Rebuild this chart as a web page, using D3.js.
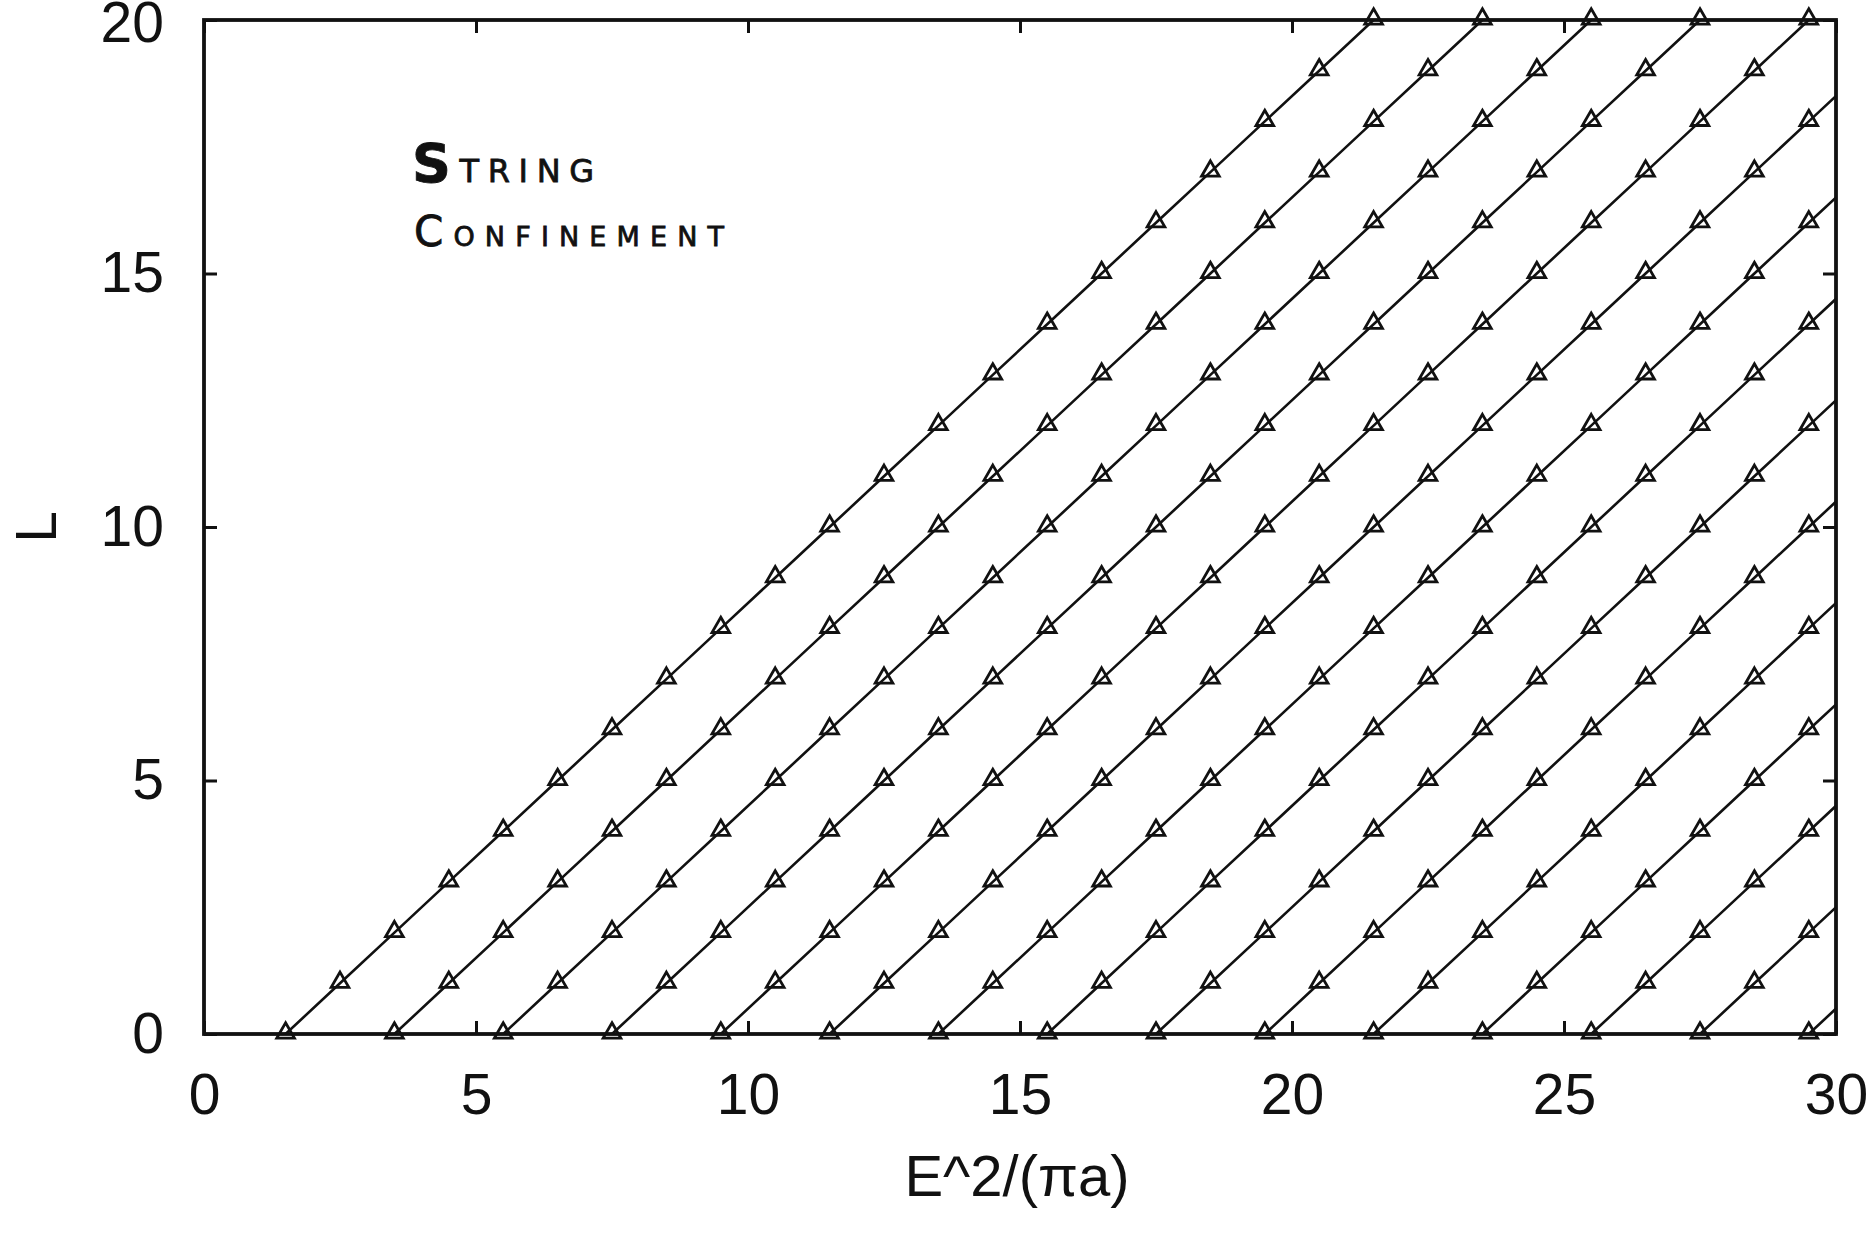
<!DOCTYPE html>
<html>
<head>
<meta charset="utf-8">
<script src="https://cdn.jsdelivr.net/npm/d3@7"></script>
<style>
  body { margin: 0; background: #fff; }
  svg { display: block; }
</style>
</head>
<body>
<div id="chart"></div>
<script>
// E^2/(pi a) where each trajectory crosses L = 0
const lineStarts = [1.5, 3.5, 5.5, 7.5, 9.5, 11.5, 13.5, 15.5, 17.5, 19.5, 21.5, 23.5, 25.5, 27.5, 29.5];
// angular momentum values carried by every trajectory
const levels = [0, 1, 2, 3, 4, 5, 6, 7, 8, 9, 10, 11, 12, 13, 14, 15, 16, 17, 18, 19, 20];
const xTicks = [0, 5, 10, 15, 20, 25, 30];
const yTicks = [0, 5, 10, 15, 20];

const W = 1872, H = 1254;
const margin = { top: 20, right: 36, bottom: 220, left: 204 };
const width = W - margin.left - margin.right;
const height = H - margin.top - margin.bottom;

const svg = d3.select("#chart").append("svg")
    .attr("width", W)
    .attr("height", H);

const g = svg.append("g")
    .attr("transform", `translate(${margin.left},${margin.top})`);

const x = d3.scaleLinear().domain([0, 30]).range([0, width]);
const y = d3.scaleLinear().domain([0, 20]).range([height, 0]);

// clip for the lines
g.append("clipPath").attr("id", "plot-clip")
    .append("rect")
    .attr("width", width)
    .attr("height", height);

// build series: each trajectory is L vs E^2/(pi a) = start + L
const series = lineStarts.map(s => levels.map(L => ({ x: s + L, L: L })));

const line = d3.line()
    .x(d => x(d.x))
    .y(d => y(d.L));

g.append("g")
    .attr("clip-path", "url(#plot-clip)")
    .selectAll("path")
    .data(series)
    .enter().append("path")
    .attr("d", line)
    .attr("fill", "none")
    .attr("stroke", "#111")
    .attr("stroke-width", 2.6);

// triangle markers
const tri = d3.symbol().type(d3.symbolTriangle).size(135);
g.append("g")
    .selectAll("path")
    .data(series.flat().filter(d => d.x <= 30))
    .enter().append("path")
    .attr("d", tri)
    .attr("transform", d => `translate(${x(d.x)},${y(d.L) - 1})`)
    .attr("fill", "none")
    .attr("stroke", "#111")
    .attr("stroke-width", 2.8);

// axes with inward ticks on all four sides
const tickLen = 13;
const axisFont = "'Liberation Sans', Arial, sans-serif";

const bottomAxis = g.append("g")
    .attr("transform", `translate(0,${height})`)
    .call(d3.axisBottom(x).tickValues(xTicks).tickSizeInner(-tickLen).tickSizeOuter(0).tickPadding(40));
const topAxis = g.append("g")
    .call(d3.axisTop(x).tickValues(xTicks).tickSizeInner(-tickLen).tickSizeOuter(0).tickFormat(""));
const leftAxis = g.append("g")
    .call(d3.axisLeft(y).tickValues(yTicks).tickSizeInner(-tickLen).tickSizeOuter(0).tickPadding(40));
const rightAxis = g.append("g")
    .attr("transform", `translate(${width},0)`)
    .call(d3.axisRight(y).tickValues(yTicks).tickSizeInner(-tickLen).tickSizeOuter(0).tickFormat(""));

[bottomAxis, topAxis, leftAxis, rightAxis].forEach(a => {
    a.select(".domain").remove();
    a.selectAll(".tick line").attr("stroke", "#111").attr("stroke-width", 3);
    a.selectAll("text")
        .attr("fill", "#111")
        .style("font-family", axisFont)
        .style("font-size", "57px");
});
bottomAxis.selectAll("text").attr("dy", "0.71em");
// keep the top label inside the page
leftAxis.selectAll(".tick text").filter(d => d === 20).attr("dy", "0.38em");

// frame
g.append("rect")
    .attr("width", width)
    .attr("height", height)
    .attr("fill", "none")
    .attr("stroke", "#111")
    .attr("stroke-width", 3.8);

// axis titles
svg.append("text")
    .attr("x", 1017)
    .attr("y", 1196)
    .attr("text-anchor", "middle")
    .attr("fill", "#111")
    .style("font-family", axisFont)
    .style("font-size", "58px")
    .text("E^2/(πa)");

svg.append("text")
    .attr("transform", `translate(56,${margin.top + y(10)}) rotate(-90)`)
    .attr("text-anchor", "middle")
    .attr("fill", "#111")
    .style("font-family", axisFont)
    .style("font-size", "57px")
    .text("L");

// hand-lettered annotation
const note = g.append("g")
    .attr("fill", "#111")
    .attr("stroke", "#111")
    .attr("stroke-width", 0.8)
    .style("font-family", "'DejaVu Sans', sans-serif");

const t1 = note.append("text").attr("x", 208).attr("y", 162)
    .attr("textLength", 182).attr("lengthAdjust", "spacing");
t1.append("tspan").style("font-size", "54px").style("font-weight", "bold").text("S");
t1.append("tspan").style("font-size", "32px").text("TRING");

const t2 = note.append("text").attr("x", 210).attr("y", 226)
    .attr("textLength", 310).attr("lengthAdjust", "spacing");
t2.append("tspan").style("font-size", "42px").text("C");
t2.append("tspan").style("font-size", "27px").text("ONFINEMENT");
</script>
</body>
</html>
